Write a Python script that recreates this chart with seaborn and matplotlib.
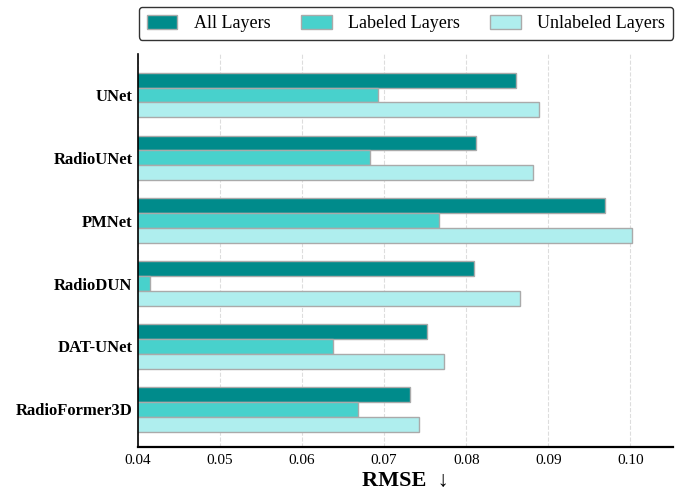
import matplotlib
matplotlib.use("Agg")
import matplotlib.pyplot as plt
from matplotlib.patches import Patch
import seaborn as sns
import pandas as pd

models = ["UNet", "RadioUNet", "PMNet", "RadioDUN", "DAT-UNet", "RadioFormer3D"]
series = ["All Layers", "Labeled Layers", "Unlabeled Layers"]
all_layers = [0.0861, 0.0812, 0.0969, 0.0810, 0.0752, 0.0731]
labeled_layers = [0.0693, 0.0683, 0.0767, 0.0415, 0.0638, 0.0668]
unlabeled_layers = [0.0889, 0.0881, 0.1002, 0.0865, 0.0773, 0.0743]
colors = ["#008B8B", "#48D1CC", "#AFEEEE"]
xticks = [0.04, 0.05, 0.06, 0.07, 0.08, 0.09, 0.10]

sns.set_theme(style="white")
plt.rcParams["font.family"] = ["Liberation Serif", "DejaVu Serif"]
plt.rcParams["text.color"] = "black"
plt.rcParams["axes.labelcolor"] = "black"
plt.rcParams["xtick.color"] = "black"
plt.rcParams["ytick.color"] = "black"

rows = []
for name, vals in zip(series, [all_layers, labeled_layers, unlabeled_layers]):
    for m, v in zip(models, vals):
        rows.append({"Model": m, "Setting": name, "RMSE": v})
df = pd.DataFrame(rows)

fig = plt.figure(figsize=(6.82, 4.95), dpi=100)
ax = fig.add_axes([138 / 682, 1 - 447 / 495, (673 - 138) / 682, (447 - 54) / 495])

sns.barplot(data=df, y="Model", x="RMSE", hue="Setting", order=models,
            hue_order=series, palette=colors, saturation=1, orient="h", width=0.71,
            edgecolor="#aaaaaa", linewidth=1.0, ax=ax, legend=False, zorder=2)

ax.set_xlim(0.04, 0.1052)
ax.set_ylim(5.60, -0.652)
ax.set_xticks(xticks)
ax.set_xticklabels([f"{t:.2f}" for t in xticks], fontsize=11)
ax.tick_params(axis="y", labelsize=12, length=3, width=1, pad=1)
ax.tick_params(axis="x", length=3, width=1, pad=2)
for lbl in ax.get_yticklabels():
    lbl.set_fontweight("bold")
ax.set_ylabel("")
ax.set_xlabel("RMSE  ↓", fontsize=16, fontweight="bold", labelpad=3)

ax.grid(axis="x", linestyle="--", color="#dddddd", linewidth=0.8, zorder=0)
ax.set_axisbelow(True)
for s in ["top", "right"]:
    ax.spines[s].set_visible(False)
for s, lw in [("left", 1.2), ("bottom", 1.6)]:
    ax.spines[s].set_color("black")
    ax.spines[s].set_linewidth(lw)
    ax.spines[s].set_zorder(5)

handles = [Patch(facecolor=c, edgecolor="#aaaaaa", label=s) for c, s in zip(colors, series)]
leg = fig.legend(handles=handles, loc="upper center", bbox_to_anchor=(406 / 682, 1 - 3 / 495),
                 ncol=3, fontsize=13, frameon=True, fancybox=True, edgecolor="black",
                 handlelength=1.7, handleheight=0.8, columnspacing=1.7, handletextpad=0.9,
                 borderpad=0.45, borderaxespad=0.2)
leg.get_frame().set_linewidth(1.0)

fig.savefig("out.png", dpi=100)
